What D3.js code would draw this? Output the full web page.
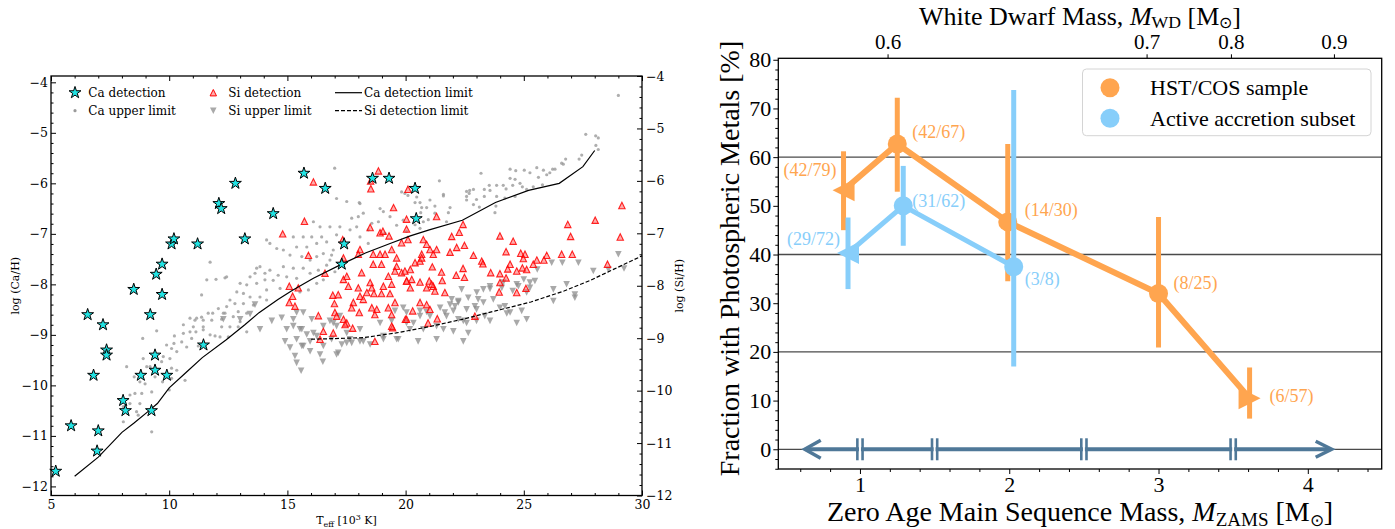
<!DOCTYPE html>
<html>
<head>
<meta charset="utf-8">
<script src="https://cdn.jsdelivr.net/npm/d3@7"></script>
<style>
  body { margin: 0; background: #fff; }
  svg { display: block; }
</style>
</head>
<body>
<svg class="figure" width="1395" height="529"></svg>
<script>
// ---------------- left panel data: Teff [10^3 K], log abundance ----------------
const caDetections = [
  [5.2,-11.7],[5.85,-10.8],[6.55,-8.6],[7.2,-8.8],[7.35,-9.3],[7.35,-9.4],[6.8,-9.8],[7.0,-10.9],
  [6.95,-11.3],[8.05,-10.3],[8.15,-10.5],[8.5,-8.1],[9.7,-8.2],[9.2,-8.6],[9.4,-9.4],[9.4,-9.7],
  [8.8,-9.8],[9.9,-9.8],[9.25,-10.5],[11.45,-9.2],[9.45,-7.8],[9.7,-7.6],[10.1,-7.2],[10.2,-7.1],
  [11.2,-7.2],[12.1,-6.4],[12.2,-6.5],[12.8,-6.0],[13.2,-7.1],[14.4,-6.6],[15.7,-5.8],[16.6,-6.1],
  [17.4,-7.2],[17.3,-7.6],[18.6,-5.9],[19.3,-5.9],[20.4,-6.1],[20.45,-6.7]
]

const caUpperLimits = [
  [11.73,-7.56],[11.98,-7.9],[12.36,-7.87],[11.37,-8.21],[10.88,-8.67],[11.09,-8.71],[11.37,-8.65],[11.65,-8.57],
  [11.84,-8.57],[12.22,-8.69],[12.29,-8.57],[10.6,-8.8],[11.13,-8.94],[11.44,-8.9],[11.73,-9.0],[11.94,-9.02],
  [10.6,-8.97],[10.22,-9.02],[10.2,-9.17],[10.53,-9.14],[10.95,-9.07],[10.74,-9.24],[11.23,-9.22],[9.89,-9.2],
  [10.1,-9.27],[10.32,-9.33],[9.47,-8.92],[8.88,-9.07],[9.75,-9.43],[10.03,-9.47],[9.68,-9.53],[9.19,-9.63],
  [9.05,-9.63],[8.9,-9.47],[10.1,-9.66],[10.32,-9.7],[10.67,-9.9],[9.82,-9.83],[10.1,-9.86],[9.72,-9.93],
  [10.0,-10.09],[8.76,-9.93],[8.52,-9.83],[8.98,-9.97],[8.84,-10.16],[8.55,-10.16],[8.2,-9.63],[8.34,-10.19],
  [8.34,-10.36],[8.76,-10.36],[9.26,-10.13],[8.06,-10.42],[8.62,-10.52],[8.69,-10.59],[8.06,-10.72],[9.26,-10.92],
  [9.47,-9.7],[9.4,-9.83],
  [17.08,-6.3],[17.51,-6.36],[18.04,-6.38],[17.72,-6.69],[18.21,-6.59],[18.92,-6.5],[19.06,-6.56],[19.34,-6.66],
  [18.85,-6.76],[17.93,-6.86],[17.65,-6.92],[17.22,-6.86],[16.8,-6.86],[16.38,-6.86],[16.1,-6.76],[16.45,-7.06],
  [16.03,-7.06],[15.67,-7.06],[15.25,-7.06],[15.39,-7.26],[15.82,-7.26],[16.24,-7.19],[16.66,-7.16],[16.94,-7.32],
  [16.87,-7.42],[16.52,-7.39],[16.24,-7.45],[15.96,-7.52],[15.61,-7.45],[15.11,-7.42],[14.83,-7.32],[14.55,-7.29],
  [14.26,-7.19],[14.12,-7.12],[14.83,-7.65],[15.25,-7.68],[15.67,-7.68],[15.96,-7.78],[16.31,-7.72],[15.39,-7.88],
  [14.97,-7.85],[14.61,-7.82],[14.4,-7.92],[14.05,-7.78],[13.84,-7.65],[13.63,-7.78],[13.42,-7.85],[13.7,-7.98],
  [13.28,-8.01],[13.0,-7.98],[12.86,-8.15],[13.14,-8.18],[13.42,-8.25],[13.84,-8.25],[14.12,-8.31],[13.56,-8.41],
  [13.14,-8.38],[12.78,-8.38],[12.57,-8.31],[12.43,-8.44],[12.92,-8.54],[13.28,-8.57],[12.71,-8.64],[13.0,-8.74],
  [12.36,-8.57],[12.08,-8.48],[11.8,-8.71],[11.44,-8.71],[11.16,-8.67],[11.02,-8.84],[10.88,-8.94],
  [14.05,-7.91],[14.26,-7.72],[14.12,-8.11],[14.69,-8.08],[13.7,-7.68],[17.08,-7.02],[17.51,-7.19],[18.07,-7.06],
  [18.42,-6.92],[18.0,-6.66],[18.57,-6.79],[19.62,-6.83],[19.9,-6.73],[19.13,-6.99],[18.42,-7.19],[16.66,-7.62],
  [17.01,-7.75],[16.52,-7.91],[16.24,-7.98],[15.89,-8.11],[15.53,-8.15],[16.8,-7.52],[12.57,-8.84],[12.22,-8.84],
  [12.92,-8.84],[13.28,-8.94],[12.5,-9.04],[12.15,-9.04],[11.44,-8.84],
  [29.0,-4.26],[27.62,-5.03],[28.15,-5.1],[28.05,-5.25],[28.15,-5.33],[27.34,-5.52],[26.77,-5.52],[26.67,-5.62],
  [26.22,-5.72],[26.1,-5.79],[25.55,-5.69],[25.26,-5.79],[25.02,-5.74],[24.66,-5.75],[24.42,-5.9],[24.63,-5.92],
  [25.62,-5.88],[25.97,-5.83],[25.79,-6.03],[25.4,-6.07],[25.12,-6.12],[24.63,-6.26],[24.25,-6.11],[24.13,-6.04],
  [23.85,-6.04],[23.54,-6.04],[23.57,-6.14],[23.33,-6.12],[23.19,-5.8],[22.87,-6.12],[22.69,-6.2],[22.58,-6.33],
  [23.0,-6.32],[23.33,-6.26],[23.85,-6.26],[23.82,-6.45],[23.78,-6.58],[24.2,-6.29],[21.6,-6.25],[21.43,-5.95],
  [21.03,-6.33],[21.88,-6.48],[21.81,-6.58],[21.24,-6.45],[20.89,-6.48],[20.61,-6.38],[20.68,-6.48],[20.4,-6.38],
  [20.1,-6.24],[20.64,-6.58],[21.24,-6.59],[20.96,-6.72],[20.75,-6.76],[20.4,-6.82],[20.61,-6.89],[20.04,-6.95],
  [21.73,-6.76],[22.71,-6.14],[24.42,-5.72],[25.83,-5.74],[26.32,-5.72],[26.6,-5.6],[22.58,-6.26],[22.87,-6.42],
  [23.12,-6.47],[24.53,-6.04],[24.84,-6.0],[24.94,-6.07],[27.45,-5.44],[28.04,-5.06],
  [11.59,-7.91],[12.43,-7.85],[17.0,-5.7],[19.97,-6.2],[18.07,-6.4],[19.83,-6.17],[20.47,-6.27],[21.6,-6.22],[22.58,-6.16]
]

const siDetections = [
  [18.85,-5.81],[18.52,-6.0],[18.53,-6.15],[16.1,-6.02],[15.72,-6.77],[14.8,-7.01],[15.89,-7.42],[19.49,-6.51],
  [17.34,-7.12],[17.37,-7.47],[16.59,-7.76],[15.08,-8.01],[15.46,-8.04],[15.22,-8.2],[15.08,-8.32],[15.32,-8.39],
  [18.5,-6.89],[18.92,-6.99],[19.04,-6.96],[19.3,-7.05],[18.07,-7.31],[18.0,-7.4],[18.63,-7.4],[18.92,-7.4],
  [19.13,-7.4],[18.63,-7.59],[18.98,-7.59],[19.41,-7.31],[19.62,-7.47],[19.62,-7.63],[19.83,-7.18],[19.55,-7.72],
  [19.83,-7.75],[20.05,-7.91],[17.51,-7.82],[17.37,-7.88],[17.58,-8.01],[18.14,-7.75],[18.0,-8.04],[18.5,-7.94],
  [18.57,-8.04],[19.06,-8.01],[19.27,-7.82],[19.41,-7.97],[16.92,-8.18],[17.15,-8.17],[18.07,-8.2],[18.36,-8.13],
  [18.66,-8.15],[18.98,-8.15],[19.34,-8.15],[16.99,-8.34],[17.79,-8.32],[17.72,-8.42],[18.21,-8.26],[18.57,-8.42],
  [18.78,-8.45],[19.27,-8.42],[19.55,-8.32],[17.01,-8.51],[17.08,-8.58],[17.37,-8.64],[16.31,-8.57],[18.04,-8.51],
  [18.7,-8.55],[19.41,-8.55],[17.51,-8.71],[17.76,-8.81],[16.52,-8.87],[16.94,-8.9],[16.38,-9.02],[19.45,-8.8],
  [18.7,-9.06],[19.99,-8.64],[20.2,-7.69],
  [20.1,-6.16],[20.04,-6.73],[21.31,-6.68],[22.43,-6.83],[22.27,-6.98],[21.95,-7.06],[23.99,-7.05],[24.55,-7.15],
  [26.86,-6.83],[26.98,-7.06],[28.02,-6.75],[29.15,-6.47],[29.08,-7.07],[20.04,-6.92],[20.1,-7.12],[20.75,-7.12],
  [20.89,-7.21],[21.03,-7.31],[21.31,-7.31],[21.17,-7.4],[20.68,-7.4],[21.88,-7.36],[22.16,-7.27],[22.49,-7.23],
  [22.87,-7.42],[23.22,-7.53],[23.27,-7.58],[24.25,-7.35],[24.87,-7.38],[25.05,-7.4],[24.98,-7.48],[25.97,-7.42],
  [25.85,-7.51],[25.55,-7.51],[25.4,-7.59],[26.6,-7.4],[27.05,-7.4],[24.42,-7.59],[24.7,-7.72],[24.94,-7.66],
  [25.12,-7.69],[24.32,-7.68],[23.99,-7.77],[24.25,-7.85],[23.6,-7.75],[22.43,-7.67],[22.14,-7.8],[22.49,-7.84],
  [21.55,-7.9],[21.52,-7.74],[21.13,-7.64],[20.4,-7.56],[20.61,-7.53],[20.68,-7.47],[19.97,-7.72],[20.04,-7.91],
  [20.26,-7.88],[20.61,-7.93],[21.0,-7.91],[21.17,-8.01],[20.89,-8.04],[21.24,-8.1],[21.66,-8.13],[21.1,-7.97],
  [23.99,-7.94],[23.96,-8.12],[25.09,-8.05],[24.7,-8.13],[20.2,-8.04],[20.61,-8.32],[20.89,-8.36],[21.03,-8.45],
  [20.3,-8.48],[21.34,-8.63],[22.93,-8.58],[20.04,-8.64],[28.54,-7.59],[20.95,-8.71],[19.41,-8.77],[17.44,-8.74]
]

const siUpperLimits = [
  [17.08,-9.31],[17.15,-9.28],[16.94,-8.71],[17.22,-8.58],[17.51,-8.9],[17.72,-9.09],[18.07,-8.83],[18.21,-9.06],
  [18.5,-9.12],[18.92,-8.71],[19.06,-8.96],[19.41,-8.67],[19.69,-9.02],[19.55,-8.48],[20.04,-8.71],[20.18,-8.83],
  [20.53,-9.06],[20.75,-8.83],[21.03,-8.58],[21.31,-9.02],[21.6,-8.83],[21.66,-8.51],[22.02,-8.87],[22.44,-9.06],
  [22.65,-8.9],[22.44,-8.67],[22.09,-8.39],[22.23,-8.29],[23.0,-8.67],[23.35,-8.58],[23.71,-8.26],[23.99,-8.42],
  [24.2,-8.39],[24.7,-8.71],[25.12,-8.64],[24.91,-8.48],[24.42,-8.51],[25.12,-8.13],[25.26,-8.04],[26.25,-8.29],
  [27.16,-8.17],[27.16,-8.23],[26.81,-7.97],[22.93,-8.39],[23.07,-8.26],[20.04,-8.51],[20.61,-8.48],[21.95,-8.26],
  [22.37,-8.07],[23.57,-8.01],[24.13,-7.94],[24.7,-7.97],
  [29.0,-7.4],[28.58,-7.69],[29.24,-7.67],[27.94,-7.72],[27.31,-7.56],[26.63,-7.56],[26.18,-7.56],[25.57,-7.69],
  [25.47,-7.91],[25.26,-7.94],[25.0,-7.88],[26.25,-8.07],[24.77,-8.01],[24.53,-8.1],[24.07,-8.04],[23.57,-8.06],
  [23.29,-8.07],[23.29,-8.32],[23.01,-8.13],[22.65,-8.23],[22.23,-8.32],[21.88,-8.36],[21.46,-8.42],[22.02,-8.48],
  [22.58,-8.45],[23.0,-8.45],[22.23,-8.64],[22.58,-8.71],[21.73,-8.58],[20.89,-8.5],[20.61,-8.58],[19.9,-8.42],
  [20.33,-8.71],[21.31,-8.77],[23.57,-8.67],[24.28,-8.53],
  [15.25,-8.77],[15.61,-8.83],[15.82,-8.93],[15.39,-9.02],[15.96,-9.06],[16.24,-8.96],[15.61,-9.15],[14.97,-8.83],
  [14.76,-8.61],[14.34,-8.67],[13.84,-8.83],[13.42,-8.54],[13.0,-8.64],[12.29,-8.64],[13.63,-8.36],[16.52,-8.77],
  [16.8,-8.67],[17.08,-8.77],[16.87,-9.02],[17.65,-9.02],[18.07,-9.06],[17.3,-9.12],[16.52,-9.15],[16.03,-8.64],
  [15.67,-8.51],[19.06,-9.02],[19.62,-9.02],
  [14.9,-9.06],[15.11,-9.18],[15.32,-9.34],[15.39,-9.47],[15.67,-9.15],[15.96,-9.25],[16.38,-9.31],[17.51,-9.09],
  [15.53,-8.83],[16.1,-8.9],[15.39,-8.51],[15.25,-8.64],[16.5,-9.45],[15.58,-9.62]
]

const caLimitCurve = [
  [6.0,-11.8],[7.0,-11.42],[8.0,-10.93],[8.5,-10.75],[9.1,-10.52],[9.5,-10.36],[10.0,-10.05],[10.7,-9.75],
  [11.4,-9.45],[12.4,-9.1],[13.2,-8.8],[13.8,-8.56],[14.6,-8.3],[15.2,-8.12],[16.1,-7.88],[17.3,-7.6],
  [18.3,-7.38],[19.4,-7.18],[20.2,-7.04],[21.0,-6.92],[22.4,-6.73],[23.8,-6.38],[25.2,-6.14],[26.5,-6.0],
  [27.5,-5.67],[28.0,-5.35]
]
const siLimitCurve = [
  [16.0,-9.02],[16.8,-9.01],[18.2,-8.99],[19.6,-8.9],[21.0,-8.78],[22.4,-8.64],[23.8,-8.48],[25.3,-8.31],
  [26.7,-8.1],[27.8,-7.9],[30.0,-7.43]
]

// ---------------- right panel data ----------------
const hstZams = [0.89, 1.25, 1.99, 3.0, 3.61]
const hstFraction = [53.2, 62.7, 46.7, 32.0, 10.5]
const hstErrLow = [45.0, 52.9, 34.5, 20.9, 6.3]
const hstErrHigh = [61.2, 72.2, 62.7, 47.7, 16.8]
const hstLabels = ["(42/79)", "(42/67)", "(14/30)", "(8/25)", "(6/57)"]

const activeZams = [0.92, 1.29, 2.03]
const activeFraction = [40.3, 50.0, 37.5]
const activeErrLow = [32.9, 41.8, 17.0]
const activeErrHigh = [47.6, 58.2, 73.8]
const activeLabels = ["(29/72)", "(31/62)", "(3/8)"]

const wdMassLabels = ["0.6", "0.7", "0.8", "0.9"]
const wdMassAtZams = [1.185, 2.92, 3.485, 4.175]

const arrowSpan = [0.63, 4.16]
const arrowBreaks = [1.0, 1.5, 2.5, 3.5]
const gridLevels = [0, 20, 40, 60]

// styling, not data
const hstMarkers = ["left", "circle", "circle", "circle", "right"]
const activeMarkers = ["left", "circle", "circle"]
const hstLabelOffsets = [[-7, -20, "end"], [15, -12, "start"], [17, -12, "start"], [15, -10, "start"], [20, -2, "start"]]
const activeLabelOffsets = [[-8, -14, "end"], [9, -5, "start"], [11, 12, "start"]]

const ORANGE = "#ffa54f"
const BLUE = "#87cefa"
const ARROW = "#4f7898"

const svg = d3.select("svg.figure")
svg.append("rect").attr("width", 1395).attr("height", 529).attr("fill", "#fff")

const minus = d => (d < 0 ? "\u2212" + Math.abs(d) : String(d))

function triPath(dir, s) {
  if (dir === "up") return `M0,${-s}L${s},${s}L${-s},${s}Z`
  if (dir === "down") return `M0,${s}L${s},${-s}L${-s},${-s}Z`
  if (dir === "left") return `M${-s},0L${s},${-s}L${s},${s}Z`
  return `M${s},0L${-s},${-s}L${-s},${s}Z`
}

function styleAxis(g, family, size) {
  g.attr("font-family", family).attr("font-size", size)
  g.select(".domain").remove()
  g.selectAll("line").attr("stroke", "#000").attr("stroke-width", 1)
  g.selectAll("text").attr("fill", "#000")
  return g
}

// ================= left panel =================
const lp = svg.append("g")
const L = { left: 51, right: 642, top: 76, bottom: 495.5 }
const xT = d3.scaleLinear().domain([5, 30]).range([L.left, L.right])
const yCa = d3.scaleLinear().domain([-12.18, -3.875]).range([L.bottom, L.top])
const ySi = d3.scaleLinear().domain([-12, -4]).range([L.bottom, L.top])
const LF = "DejaVu Serif, serif"

const xMinor = d3.range(5, 31, 1).filter(d => d % 5 !== 0)
const caMinor = d3.range(-60, -19, 1).map(d => d / 5).filter(d => d >= -12.18 && !Number.isInteger(d))
const siMinor = d3.range(-60, -19, 1).map(d => d / 5).filter(d => !Number.isInteger(d))

styleAxis(lp.append("g").attr("transform", `translate(0,${L.bottom})`)
  .call(d3.axisBottom(xT).tickValues(d3.range(5, 31, 5)).tickSize(-5).tickPadding(5).tickFormat(d3.format("d"))), LF, 12.5)
styleAxis(lp.append("g").attr("transform", `translate(0,${L.bottom})`)
  .call(d3.axisBottom(xT).tickValues(xMinor).tickSize(-2.5).tickFormat("")), LF, 12.5)
styleAxis(lp.append("g").attr("transform", `translate(0,${L.top})`)
  .call(d3.axisTop(xT).tickValues(d3.range(5, 31, 5)).tickSize(-5).tickFormat("")), LF, 12.5)
styleAxis(lp.append("g").attr("transform", `translate(0,${L.top})`)
  .call(d3.axisTop(xT).tickValues(xMinor).tickSize(-2.5).tickFormat("")), LF, 12.5)
styleAxis(lp.append("g").attr("transform", `translate(${L.left},0)`)
  .call(d3.axisLeft(yCa).tickValues(d3.range(-12, -3, 1)).tickSize(-5).tickPadding(3).tickFormat(minus)), LF, 12.5)
styleAxis(lp.append("g").attr("transform", `translate(${L.left},0)`)
  .call(d3.axisLeft(yCa).tickValues(caMinor).tickSize(-2.5).tickFormat("")), LF, 12.5)
styleAxis(lp.append("g").attr("transform", `translate(${L.right},0)`)
  .call(d3.axisRight(ySi).tickValues(d3.range(-12, -3, 1)).tickSize(-5).tickPadding(4).tickFormat(minus)), LF, 12.5)
styleAxis(lp.append("g").attr("transform", `translate(${L.right},0)`)
  .call(d3.axisRight(ySi).tickValues(siMinor).tickSize(-2.5).tickFormat("")), LF, 12.5)

// points
lp.append("g").selectAll("circle").data(caUpperLimits).join("circle")
  .attr("cx", d => xT(d[0])).attr("cy", d => yCa(d[1])).attr("r", 1.6)
  .attr("fill", "#9a9a9a").attr("fill-opacity", 0.8)

lp.append("g").selectAll("path").data(siUpperLimits).join("path")
  .attr("transform", d => `translate(${xT(d[0])},${ySi(d[1])})`)
  .attr("d", triPath("down", 3.3)).attr("fill", "#8c8c8c").attr("fill-opacity", 0.75)

lp.append("g").selectAll("path").data(siDetections).join("path")
  .attr("transform", d => `translate(${xT(d[0])},${ySi(d[1])})`)
  .attr("d", triPath("up", 3.2)).attr("fill", "#ff5a5a").attr("fill-opacity", 0.5)
  .attr("stroke", "#ff0000").attr("stroke-opacity", 0.85).attr("stroke-width", 1.1)

lp.append("path").datum(caLimitCurve)
  .attr("d", d3.line().x(d => xT(d[0])).y(d => yCa(d[1])))
  .attr("fill", "none").attr("stroke", "#000").attr("stroke-width", 1.2)
lp.append("path").datum(siLimitCurve)
  .attr("d", d3.line().x(d => xT(d[0])).y(d => ySi(d[1])))
  .attr("fill", "none").attr("stroke", "#000").attr("stroke-width", 1.2).attr("stroke-dasharray", "4,2")

const star = d3.symbol().type(d3.symbolStar).size(44)
lp.append("g").selectAll("path").data(caDetections).join("path")
  .attr("transform", d => `translate(${xT(d[0])},${yCa(d[1])})`)
  .attr("d", star).attr("fill", "#22e3e3").attr("stroke", "#000").attr("stroke-width", 1)

lp.append("rect").attr("x", L.left).attr("y", L.top)
  .attr("width", L.right - L.left).attr("height", L.bottom - L.top)
  .attr("fill", "none").attr("stroke", "#000").attr("stroke-width", 1.3)

// legend
const lg = lp.append("g").attr("font-family", LF).attr("font-size", 12)
lg.append("path").attr("transform", "translate(75,92.7)").attr("d", star)
  .attr("fill", "#22e3e3").attr("stroke", "#000")
lg.append("circle").attr("cx", 75).attr("cy", 110.7).attr("r", 1.6).attr("fill", "#9a9a9a")
lg.append("path").attr("transform", "translate(213.3,92.7)").attr("d", triPath("up", 3.2))
  .attr("fill", "#ff5a5a").attr("fill-opacity", 0.5).attr("stroke", "#ff0000")
lg.append("path").attr("transform", "translate(213.3,110.7)").attr("d", triPath("down", 3.3))
  .attr("fill", "#8c8c8c").attr("fill-opacity", 0.75)
lg.append("line").attr("x1", 335).attr("x2", 362).attr("y1", 92.7).attr("y2", 92.7)
  .attr("stroke", "#000").attr("stroke-width", 1.2)
lg.append("line").attr("x1", 335).attr("x2", 362).attr("y1", 110.7).attr("y2", 110.7)
  .attr("stroke", "#000").attr("stroke-width", 1.2).attr("stroke-dasharray", "4,2")
const lpLegend = [["Ca detection", 88.3, 92.7], ["Ca upper limit", 88.3, 110.7], ["Si detection", 228.3, 92.7],
  ["Si upper limit", 228.3, 110.7], ["Ca detection limit", 364, 92.7], ["Si detection limit", 364, 110.7]]
lg.selectAll("text").data(lpLegend).join("text")
  .attr("x", d => d[1]).attr("y", d => d[2]).attr("dominant-baseline", "central").text(d => d[0])

// axis titles
lp.append("text").attr("transform", `translate(15,${(L.top + L.bottom) / 2}) rotate(-90)`)
  .attr("text-anchor", "middle").attr("dominant-baseline", "central")
  .attr("font-family", LF).attr("font-size", 11).text("log (Ca/H)")
lp.append("text").attr("transform", `translate(679,${(L.top + L.bottom) / 2}) rotate(-90)`)
  .attr("text-anchor", "middle").attr("dominant-baseline", "central")
  .attr("font-family", LF).attr("font-size", 11).text("log (Si/H)")
const xl = lp.append("text").attr("x", (L.left + L.right) / 2).attr("y", 524)
  .attr("text-anchor", "middle").attr("font-family", LF).attr("font-size", 11)
xl.append("tspan").text("T")
xl.append("tspan").attr("font-size", 8).attr("dy", 3).text("eff")
xl.append("tspan").attr("dy", -3).text(" [10")
xl.append("tspan").attr("font-size", 8).attr("dy", -4).text("3")
xl.append("tspan").attr("dy", 4).text(" K]")

// ================= right panel =================
const rp = svg.append("g")
const RF = "Liberation Serif, Times New Roman, serif"
const R = { left: 778.3, right: 1381.7, top: 58.3, bottom: 469 }
const xZ = d3.scaleLinear().domain([0.453, 4.495]).range([R.left, R.right])
const yF = d3.scaleLinear().domain([-4.05, 80.3]).range([R.bottom, R.top])

rp.append("g").selectAll("line").data(gridLevels).join("line")
  .attr("x1", R.left).attr("x2", R.right).attr("y1", d => yF(d)).attr("y2", d => yF(d))
  .attr("stroke", "#4a4a4a").attr("stroke-width", 1.3)

const zMinor = d3.range(3, 23, 1).map(d => d / 5).filter(d => !Number.isInteger(d))
const fMinor = d3.range(-4, 81, 2).filter(d => d % 10 !== 0)

styleAxis(rp.append("g").attr("transform", `translate(${R.left},0)`)
  .call(d3.axisLeft(yF).tickValues(d3.range(0, 81, 10)).tickSize(5).tickPadding(2)), RF, 22)
styleAxis(rp.append("g").attr("transform", `translate(${R.left},0)`)
  .call(d3.axisLeft(yF).tickValues(fMinor).tickSize(3).tickFormat("")), RF, 22)
styleAxis(rp.append("g").attr("transform", `translate(0,${R.bottom})`)
  .call(d3.axisBottom(xZ).tickValues([1, 2, 3, 4]).tickSize(5).tickPadding(2).tickFormat(d3.format("d"))), RF, 22)
styleAxis(rp.append("g").attr("transform", `translate(0,${R.bottom})`)
  .call(d3.axisBottom(xZ).tickValues(zMinor).tickSize(3).tickFormat("")), RF, 22)
styleAxis(rp.append("g").attr("transform", `translate(0,${R.top})`)
  .call(d3.axisTop(xZ).tickValues(wdMassAtZams).tickSize(4).tickPadding(5)
    .tickFormat((d, i) => wdMassLabels[i])), RF, 21)

// arrow of progenitor mass bins
const ay = yF(0)
const ag = rp.append("g").attr("stroke", ARROW).attr("fill", "none").attr("stroke-linecap", "butt")
ag.append("line").attr("x1", xZ(arrowSpan[0]) + 1).attr("x2", xZ(arrowSpan[1]) - 1)
  .attr("y1", ay).attr("y2", ay).attr("stroke-width", 4)
ag.append("path").attr("d", `M${xZ(arrowSpan[0]) + 16},${ay - 9}L${xZ(arrowSpan[0])},${ay}L${xZ(arrowSpan[0]) + 16},${ay + 9}`)
  .attr("stroke-width", 3.5)
ag.append("path").attr("d", `M${xZ(arrowSpan[1]) - 16},${ay - 8}L${xZ(arrowSpan[1])},${ay}L${xZ(arrowSpan[1]) - 16},${ay + 8}`)
  .attr("stroke-width", 3.5)
arrowBreaks.forEach(b => {
  const bx = xZ(b)
  ag.append("rect").attr("x", bx - 1).attr("y", ay - 11).attr("width", 2).attr("height", 22)
    .attr("fill", "#fff").attr("stroke", "none")
  ag.append("line").attr("x1", bx - 2.6).attr("x2", bx - 2.6).attr("y1", ay - 11).attr("y2", ay + 11).attr("stroke-width", 2.6)
  ag.append("line").attr("x1", bx + 2.6).attr("x2", bx + 2.6).attr("y1", ay - 11).attr("y2", ay + 11).attr("stroke-width", 2.6)
})

function drawSeries(xs, ys, lo, hi, markers, labels, offsets, color, lw) {
  const g = rp.append("g")
  const pts = xs.map((x, i) => [x, ys[i]])
  g.append("path").datum(pts)
    .attr("d", d3.line().x(d => xZ(d[0])).y(d => yF(d[1])))
    .attr("fill", "none").attr("stroke", color).attr("stroke-width", lw).attr("stroke-linejoin", "round")
  g.selectAll("line.err").data(xs).join("line").attr("class", "err")
    .attr("x1", d => xZ(d)).attr("x2", d => xZ(d))
    .attr("y1", (d, i) => yF(lo[i])).attr("y2", (d, i) => yF(hi[i]))
    .attr("stroke", color).attr("stroke-width", 5)
  pts.forEach((p, i) => {
    const cx = xZ(p[0]), cy = yF(p[1])
    if (markers[i] === "circle") {
      g.append("circle").attr("cx", cx).attr("cy", cy).attr("r", 9.5).attr("fill", color)
    } else {
      g.append("path").attr("transform", `translate(${cx},${cy})`).attr("d", triPath(markers[i], 11)).attr("fill", color)
    }
    const o = offsets[i]
    g.append("text").attr("x", cx + o[0]).attr("y", cy + o[1])
      .attr("text-anchor", o[2]).attr("dominant-baseline", "central")
      .attr("font-family", RF).attr("font-size", 18).attr("fill", color).text(labels[i])
  })
}

drawSeries(hstZams, hstFraction, hstErrLow, hstErrHigh, hstMarkers, hstLabels, hstLabelOffsets, ORANGE, 6)
drawSeries(activeZams, activeFraction, activeErrLow, activeErrHigh, activeMarkers, activeLabels, activeLabelOffsets, BLUE, 5)

rp.append("rect").attr("x", R.left).attr("y", R.top)
  .attr("width", R.right - R.left).attr("height", R.bottom - R.top)
  .attr("fill", "none").attr("stroke", "#000").attr("stroke-width", 1.3)

// legend
const rl = rp.append("g").attr("font-family", RF).attr("font-size", 22)
rl.append("rect").attr("x", 1082.5).attr("y", 69).attr("width", 288.5).attr("height", 66.7).attr("rx", 4)
  .attr("fill", "#fff").attr("fill-opacity", 0.8).attr("stroke", "#d4d4d4")
;[["HST/COS sample", ORANGE, 87.7], ["Active accretion subset", BLUE, 118.3]].forEach(([t, c, y]) => {
  rl.append("circle").attr("cx", 1110).attr("cy", y).attr("r", 9.5).attr("fill", c)
  rl.append("text").attr("x", 1150).attr("y", y).attr("dominant-baseline", "central").text(t)
})

// titles
const cx = (R.left + R.right) / 2
function massTitle(y, size, lead, sub, shift) {
  const t = rp.append("text").attr("x", cx).attr("y", y).attr("text-anchor", "middle")
    .attr("font-family", RF).attr("font-size", size)
  t.append("tspan").text(lead)
  t.append("tspan").attr("font-style", "italic").text("M")
  t.append("tspan").attr("font-size", size * 0.68).attr("dy", shift).text(sub)
  t.append("tspan").attr("dy", -shift).text(" [M")
  t.append("tspan").attr("font-size", size * 0.6).attr("dy", shift).text("\u2299")
  t.append("tspan").attr("dy", -shift).text("]")
}
massTitle(25, 26, "White Dwarf Mass, ", "WD", 3)
massTitle(521, 28, "Zero Age Main Sequence Mass, ", "ZAMS", 5)
rp.append("text").attr("transform", "translate(729,258.5) rotate(-90)")
  .attr("text-anchor", "middle").attr("dominant-baseline", "central")
  .attr("font-family", RF).attr("font-size", 28).text("Fraction with Photospheric Metals [%]")
</script>
</body>
</html>
